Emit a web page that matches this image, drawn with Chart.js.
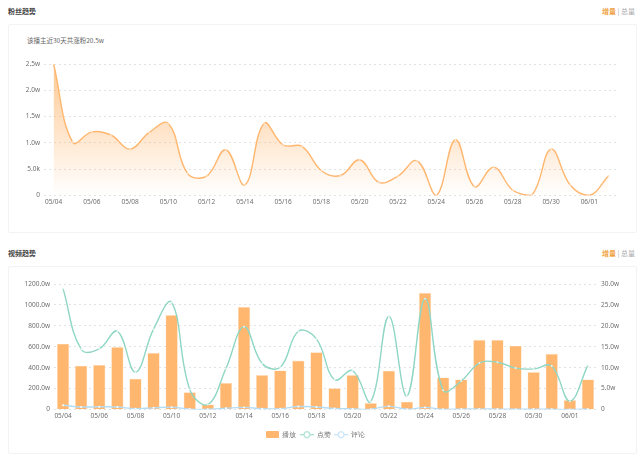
<!DOCTYPE html>
<html>
<head>
<meta charset="utf-8">
<script src="https://cdn.jsdelivr.net/npm/chart.js@4"></script>
<style>
  html, body { margin: 0; padding: 0; background: #fff; }
  body { width: 640px; height: 460px; position: relative; overflow: hidden;
         font-family: "Noto Sans CJK SC", "Noto Sans", sans-serif; }
  .titulo { position: absolute; left: 8px; font-size: 7px; line-height: 10px; font-weight: 700; color: #444; }
  .modo { position: absolute; right: 5px; font-size: 7px; line-height: 10px; color: #aaa; }
  .modo b { color: #eea23f; font-weight: 700; }
  .tarjeta { position: absolute; left: 8px; width: 627px; border: 1px solid #f3f3f3; border-radius: 2px; box-sizing: content-box; }
  .nota { position: absolute; left: 27px; top: 35px; font-size: 6.5px; line-height: 10px; color: #666; }
  canvas { position: absolute; left: 0; }
</style>
</head>
<body>
<div class="titulo" style="top:6px">粉丝趋势</div>
<div class="modo" style="top:6px"><b>增量</b> | 总量</div>
<div class="tarjeta" style="top:24px;height:207px"></div>
<div class="nota">该播主近30天共涨粉20.5w</div>
<div class="titulo" style="top:248px">视频趋势</div>
<div class="modo" style="top:248px"><b>增量</b> | 总量</div>
<div class="tarjeta" style="top:266px;height:186px"></div>
<div style="position:absolute;left:0;top:50px;width:640px;height:160px"><canvas id="graficaFans"></canvas></div>
<div style="position:absolute;left:0;top:270px;width:640px;height:178px"><canvas id="graficaVideo"></canvas></div>
<script>
const fechas = ['05/04','05/05','05/06','05/07','05/08','05/09','05/10','05/11','05/12','05/13','05/14','05/15','05/16','05/17','05/18','05/19','05/20','05/21','05/22','05/23','05/24','05/25','05/26','05/27','05/28','05/29','05/30','05/31','06/01','06/02'];
const fans = [2.5,1.01,1.21,1.15,0.88,1.2,1.37,0.42,0.37,0.87,0.2,1.37,0.96,0.93,0.47,0.38,0.68,0.25,0.37,0.66,0,1.06,0.17,0.54,0.1,0.01,0.88,0.2,0,0.37];
const reproducciones = [629,419,426,597,294,542,903,165,48,255,981,329,374,468,548,203,329,61,371,74,1116,306,287,665,665,610,358,532,90,287];
const megusta = [28.9,14.4,14.5,18.7,8.9,19.2,25.6,4.8,1.2,9.8,19.8,11,10.1,18.7,16.9,7.1,9.3,1.9,22.3,3.2,26.5,4.6,6.8,11.1,11.3,9.9,9.7,10.4,2,10.6];
const comentarios = [1,0.6,0.65,0.6,0.2,0.4,0.55,0.1,0.05,0.3,0.5,0.2,0.2,0.7,0.6,0.25,0.15,0.05,0.8,0.05,0.5,0.05,0.1,0.1,0.1,0.05,0.1,0.05,0.02,0.1];
const etiquetasFans = ['0','5.0k','1.0w','1.5w','2.0w','2.5w'];

const NARANJA = '#ffb66e';
const VERDE = '#8fd6c4';
const AZUL = '#b5dcf5';
const GRIS = '#6e6e6e';
const fuente = { family: '"Noto Sans", sans-serif', size: 6.5 };
const rejilla = { color: '#e2e2e2', lineWidth: 1, drawTicks: false };
const bordeRejilla = { display: false, dash: [2, 3] };
const sinRejilla = { display: false, drawTicks: false };

// simbolo de la leyenda: linea con circulo
function simboloLinea(color) {
    const c = document.createElement('canvas');
    c.width = 14; c.height = 9;
    const g = c.getContext('2d');
    g.strokeStyle = color; g.lineWidth = 1;
    g.beginPath(); g.moveTo(0, 4.5); g.lineTo(14, 4.5); g.stroke();
    g.fillStyle = '#fff';
    g.beginPath(); g.arc(7, 4.5, 3, 0, Math.PI * 2); g.fill(); g.stroke();
    return c;
}
function simboloBarra(color) {
    const c = document.createElement('canvas');
    c.width = 13; c.height = 7;
    const g = c.getContext('2d');
    g.fillStyle = color;
    g.beginPath(); g.roundRect(0, 0, 13, 7, 1); g.fill();
    return c;
}

function ejeFechas(alto) {
    return {
        offset: true,
        grid: sinRejilla,
        border: { display: false },
        ticks: {
            autoSkip: false, maxRotation: 0, color: GRIS, font: fuente, padding: 3,
            callback(v, i) { return i % 2 === 0 ? fechas[i] : ''; }
        },
        afterFit(s) { s.height = alto; }
    };
}

new Chart(document.getElementById('graficaFans'), {
    type: 'line',
    data: {
        labels: fechas,
        datasets: [{
            data: fans,
            borderColor: NARANJA,
            borderWidth: 1.4,
            tension: 0.4,
            pointRadius: 1,
            pointBackgroundColor: '#ffe3c6',
            pointBorderWidth: 0,
            fill: 'origin',
            backgroundColor(ctx) {
                const area = ctx.chart.chartArea;
                if (!area) return 'transparent';
                const g = ctx.chart.ctx.createLinearGradient(0, area.top, 0, area.bottom);
                g.addColorStop(0, 'rgba(255,182,110,0.75)');
                g.addColorStop(1, 'rgba(255,182,110,0)');
                return g;
            }
        }]
    },
    options: {
        responsive: true,
        maintainAspectRatio: false,
        animation: false,
        layout: { padding: { left: 4, right: 22, top: 14, bottom: 0 } },
        plugins: { legend: { display: false }, tooltip: { enabled: false } },
        scales: {
            x: ejeFechas(14.5),
            y: {
                min: 0, max: 2.5,
                grid: rejilla,
                border: bordeRejilla,
                ticks: {
                    stepSize: 0.5, color: GRIS, font: fuente, padding: 4,
                    callback(v, i) { return etiquetasFans[i]; }
                },
                afterFit(s) { s.width = 40; }
            }
        }
    }
});

new Chart(document.getElementById('graficaVideo'), {
    data: {
        labels: fechas,
        datasets: [
            { type: 'bar', label: '播放', data: reproducciones, yAxisID: 'y', backgroundColor: NARANJA, borderColor: '#ffe2c4', borderWidth: 0.6, barPercentage: 0.68, categoryPercentage: 1, order: 3 },
            { type: 'line', label: '点赞', data: megusta, yAxisID: 'y2', borderColor: VERDE, borderWidth: 1.4, tension: 0.4, pointRadius: 1, pointBackgroundColor: '#e4f6f1', pointBorderWidth: 0, order: 1 },
            { type: 'line', label: '评论', data: comentarios, yAxisID: 'y2', borderColor: AZUL, borderWidth: 1.4, tension: 0.4, pointRadius: 1, pointBackgroundColor: '#fff', pointBorderWidth: 0, order: 2 }
        ]
    },
    options: {
        responsive: true,
        maintainAspectRatio: false,
        animation: false,
        layout: { padding: { left: 4, right: 13, top: 14, bottom: 0 } },
        plugins: {
            tooltip: { enabled: false },
            legend: {
                position: 'bottom',
                labels: {
                    usePointStyle: true,
                    pointStyleWidth: 13,
                    boxHeight: 8,
                    color: GRIS,
                    font: fuente,
                    padding: 4,
                    generateLabels() {
                        return [
                            { text: '播放', pointStyle: simboloBarra(NARANJA), datasetIndex: 0, fontColor: GRIS },
                            { text: '点赞', pointStyle: simboloLinea(VERDE), datasetIndex: 1, fontColor: GRIS },
                            { text: '评论', pointStyle: simboloLinea(AZUL), datasetIndex: 2, fontColor: GRIS }
                        ];
                    }
                }
            }
        },
        scales: {
            x: ejeFechas(18),
            y: {
                min: 0, max: 1200,
                grid: rejilla,
                border: bordeRejilla,
                ticks: {
                    stepSize: 200, color: GRIS, font: fuente, padding: 4,
                    callback(v) { return v === 0 ? '0' : v.toFixed(1) + 'w'; }
                },
                afterFit(s) { s.width = 50; }
            },
            y2: {
                position: 'right',
                min: 0, max: 30,
                grid: { display: false, drawTicks: false },
                border: { display: false },
                ticks: {
                    stepSize: 5, color: GRIS, font: fuente, padding: 4,
                    callback(v) { return v === 0 ? '0' : v.toFixed(1) + 'w'; }
                },
                afterFit(s) { s.width = 30; }
            }
        }
    }
});
</script>
</body>
</html>
